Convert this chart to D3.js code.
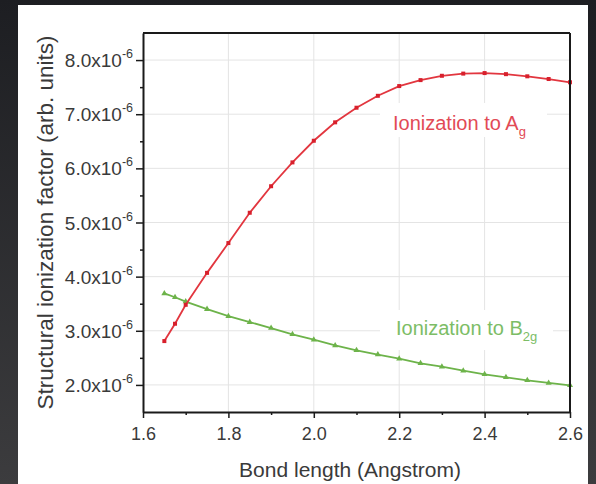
<!DOCTYPE html>
<html>
<head>
<meta charset="utf-8">
<script src="https://cdn.jsdelivr.net/npm/d3@7"></script>
<style>
  html, body { margin: 0; padding: 0; background: #222; }
  svg { display: block; font-family: "Liberation Sans", Arial, Helvetica, sans-serif; }
</style>
</head>
<body>
<svg id="chart" width="596" height="484"></svg>
<script>
// ---- data ----
const bondLength = [1.65, 1.675, 1.70, 1.75, 1.80, 1.85, 1.90, 1.95, 2.00, 2.05, 2.10, 2.15, 2.20, 2.25, 2.30, 2.35, 2.40, 2.45, 2.50, 2.55, 2.60];
const ionAg  = [2.81, 3.13, 3.48, 4.07, 4.62, 5.18, 5.67, 6.11, 6.51, 6.85, 7.12, 7.34, 7.52, 7.63, 7.71, 7.75, 7.76, 7.74, 7.70, 7.65, 7.59];
const ionB2g = [3.69, 3.62, 3.54, 3.40, 3.27, 3.16, 3.05, 2.935, 2.835, 2.73, 2.64, 2.56, 2.485, 2.40, 2.337, 2.263, 2.196, 2.14, 2.085, 2.036, 1.993];
const xTicks = [1.6, 1.8, 2.0, 2.2, 2.4, 2.6];
const xTickLabels = ["1.6", "1.8", "2.0", "2.2", "2.4", "2.6"];
const xMinorTicks = [1.7, 1.9, 2.1, 2.3, 2.5];
const yTicks = [2, 3, 4, 5, 6, 7, 8];
const yTickLabels = ["2.0x10", "3.0x10", "4.0x10", "5.0x10", "6.0x10", "7.0x10", "8.0x10"];
const yTickExp = "-6";
const yMinorTicks = [2.5, 3.5, 4.5, 5.5, 6.5, 7.5];
const xTitle = "Bond length (Angstrom)";
const yTitle = "Structural ionization factor (arb. units)";

const svg = d3.select("#chart");

// background (dark slide photo) + white panel
const defs = svg.append("defs");
const g1 = defs.append("linearGradient").attr("id", "bg").attr("x1", 0).attr("y1", 0).attr("x2", 0).attr("y2", 1);
g1.append("stop").attr("offset", "0%").attr("stop-color", "#1d1e22");
g1.append("stop").attr("offset", "100%").attr("stop-color", "#3c3c3e");
svg.append("rect").attr("width", 596).attr("height", 484).attr("fill", "url(#bg)");
svg.append("rect").attr("x", 18).attr("y", 5).attr("width", 570).attr("height", 479).attr("fill", "#ffffff");

const L = 143, R = 570, T = 33, B = 412;
const x = d3.scaleLinear().domain([1.6, 2.6]).range([L, R]);
const y = d3.scaleLinear().domain([1.5, 8.5]).range([B, T]);

// grid
svg.append("g").selectAll("line").data(xTicks.slice(1, -1)).join("line")
  .attr("x1", d => x(d)).attr("x2", d => x(d)).attr("y1", T).attr("y2", B)
  .attr("stroke", "#e4e4e4").attr("stroke-width", 1);
svg.append("g").selectAll("line").data(yTicks).join("line")
  .attr("x1", L).attr("x2", R).attr("y1", d => y(d)).attr("y2", d => y(d))
  .attr("stroke", "#e4e4e4").attr("stroke-width", 1);

// annotation backgrounds (hide grid behind labels)
svg.append("rect").attr("x", 380).attr("y", 103).attr("width", 167).attr("height", 34).attr("fill", "#fff");
svg.append("rect").attr("x", 380).attr("y", 310).attr("width", 173).attr("height", 40).attr("fill", "#fff");

// series
const redLine = "#e2363f", greenLine = "#6db34a";
const line = d3.line().x(d => x(d[0])).y(d => y(d[1]));
const agData = bondLength.map((b, i) => [b, ionAg[i]]);
const bData = bondLength.map((b, i) => [b, ionB2g[i]]);

svg.append("path").datum(bData).attr("d", line).attr("fill", "none").attr("stroke", greenLine).attr("stroke-width", 1.8);
svg.append("g").selectAll("path").data(bData).join("path")
  .attr("d", d3.symbol().type(d3.symbolTriangle).size(16))
  .attr("transform", d => `translate(${x(d[0])},${y(d[1])})`)
  .attr("fill", greenLine);

svg.append("path").datum(agData).attr("d", line).attr("fill", "none").attr("stroke", redLine).attr("stroke-width", 1.8);
svg.append("g").selectAll("rect").data(agData).join("rect")
  .attr("x", d => x(d[0]) - 2).attr("y", d => y(d[1]) - 2)
  .attr("width", 4).attr("height", 4)
  .attr("fill", "#d8202c");

// axes
const axisColor = "#1a1a1a", labelColor = "#3a3a3a";
const xAxis = svg.append("g").attr("transform", `translate(0,${B})`)
  .call(d3.axisBottom(x).tickValues(xTicks).tickSize(6).tickSizeOuter(0).tickFormat((d, i) => xTickLabels[i]));
svg.append("g").attr("transform", `translate(0,${B})`)
  .call(d3.axisBottom(x).tickValues(xMinorTicks).tickSize(3).tickSizeOuter(0).tickFormat(""))
  .call(g => g.select(".domain").remove());
xAxis.select(".domain").attr("stroke-width", 2);
xAxis.selectAll("text").attr("font-size", 18).attr("fill", labelColor).attr("dy", null).attr("y", 28);

const yAxis = svg.append("g").attr("transform", `translate(${L},0)`)
  .call(d3.axisLeft(y).tickValues(yTicks).tickSize(7).tickSizeOuter(0).tickFormat(""));
svg.append("g").attr("transform", `translate(${L},0)`)
  .call(d3.axisLeft(y).tickValues(yMinorTicks).tickSize(3).tickSizeOuter(0).tickFormat(""))
  .call(g => g.select(".domain").remove());
yAxis.select(".domain").attr("stroke-width", 2);
svg.selectAll(".tick line").attr("stroke", axisColor).attr("stroke-width", 1.5);
svg.selectAll(".domain").attr("stroke", axisColor);

// y tick labels with superscript
const yl = svg.append("g").selectAll("text").data(yTicks).join("text")
  .attr("x", 133).attr("y", d => y(d) + 7)
  .attr("text-anchor", "end").attr("font-size", 19).attr("fill", labelColor);
yl.append("tspan").text((d, i) => yTickLabels[i]);
yl.append("tspan").attr("dy", -9).attr("font-size", 12.5).text(yTickExp);

// frame top + right
svg.append("line").attr("x1", L).attr("x2", R).attr("y1", T).attr("y2", T).attr("stroke", axisColor).attr("stroke-width", 2);
svg.append("line").attr("x1", R).attr("x2", R).attr("y1", T).attr("y2", B).attr("stroke", axisColor).attr("stroke-width", 2);

// titles
svg.append("text").attr("x", 350).attr("y", 477).attr("text-anchor", "middle")
  .attr("font-size", 21).attr("fill", labelColor).text(xTitle);
svg.append("text").attr("transform", `translate(53,${(T + B) / 2}) rotate(-90)`).attr("text-anchor", "middle")
  .attr("font-size", 22.5).attr("fill", labelColor).text(yTitle);

// annotations
const ta = svg.append("text").attr("x", 393).attr("y", 130).attr("font-size", 20).attr("fill", "#e24a55");
ta.append("tspan").text("Ionization to A");
ta.append("tspan").attr("dy", 6).attr("font-size", 13).text("g");
const tb = svg.append("text").attr("x", 396).attr("y", 335).attr("font-size", 20).attr("fill", "#7cbd66");
tb.append("tspan").text("Ionization to B");
tb.append("tspan").attr("dy", 6).attr("font-size", 13).text("2g");
</script>
</body>
</html>
